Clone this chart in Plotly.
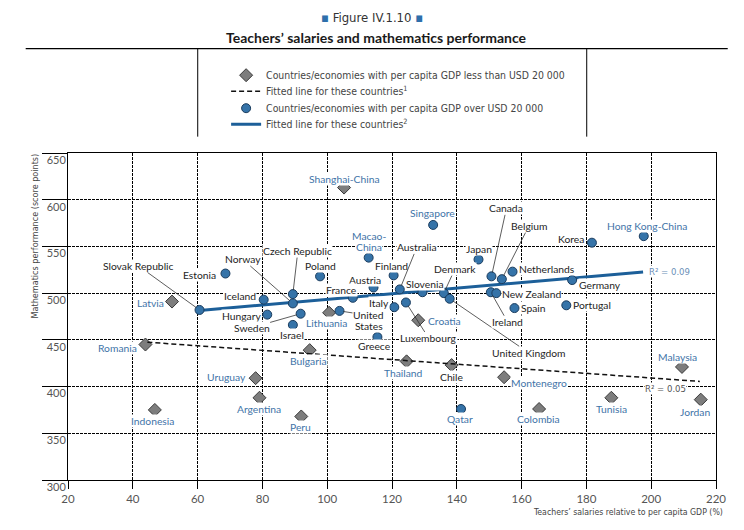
import plotly.graph_objects as go

# ---------------- data ----------------
high_names = ["Slovak Republic", "Estonia", "Norway", "Czech Republic", "Poland", "Iceland",
              "Hungary", "Sweden", "Israel", "Macao-China", "Singapore", "Finland", "Austria",
              "Australia", "France", "Slovenia", "United States", "Italy", "Luxembourg", "Greece",
              "Denmark", "United Kingdom", "Japan", "Canada", "Belgium", "Netherlands", "Ireland",
              "New Zealand", "Spain", "Germany", "Portugal", "Korea", "Hong Kong-China", "Qatar"]
high_x = [60.6, 68.6, 89.4, 89.4, 97.8, 80.4, 81.5, 91.8, 89.4, 112.8, 132.7, 120.5, 114.3,
          122.4, 107.9, 129.4, 103.8, 120.7, 124.3, 115.5, 136.0, 137.8, 146.7, 150.7, 153.9,
          157.2, 150.5, 152.2, 157.8, 175.6, 173.8, 181.7, 197.7, 141.3]
high_y = [482, 521, 489, 499, 518, 493, 477, 478, 466, 538, 573, 519, 506,
          504, 495, 501, 481, 485, 490, 453, 500, 494, 536, 518, 515,
          523, 501, 500, 484, 514, 487, 554, 561, 376]

low_names = ["Latvia", "Shanghai-China", "Lithuania", "Croatia", "Romania", "Indonesia",
             "Uruguay", "Argentina", "Peru", "Bulgaria", "Thailand", "Chile", "Montenegro",
             "Colombia", "Tunisia", "Malaysia", "Jordan"]
low_x = [52.1, 105.2, 100.6, 128.1, 43.9, 46.8, 77.9, 79.1, 92.0, 94.6, 124.5, 138.4, 154.6,
         165.4, 187.7, 209.5, 215.3]
low_y = [491, 613, 479, 471, 445, 375, 409, 388, 368, 439, 427, 423, 410, 376, 388, 421, 386]

fit_high_x = [60.6, 197.5]
fit_high_y = [481.5, 522.7]
fit_low_x = [44.5, 215.0]
fit_low_y = [447.5, 405.5]
r2_high = "R\u00b2 = 0.09"
r2_low = "R\u00b2 = 0.05"

x_ticks = [20, 40, 60, 80, 100, 120, 140, 160, 180, 200, 220]
y_ticks = [300, 350, 400, 450, 500, 550, 600, 650]

partners = {"Shanghai-China", "Singapore", "Macao-China", "Hong Kong-China", "Qatar", "Latvia",
            "Lithuania", "Croatia", "Romania", "Indonesia", "Uruguay", "Argentina", "Peru",
            "Bulgaria", "Thailand", "Montenegro", "Colombia", "Tunisia", "Malaysia", "Jordan"}

# ---------------- label placement (pixel offsets from the point) ----------------
label_pos = {
    "Slovak Republic": ("a", -61, -44), "Estonia": ("r", -8, 1), "Norway": ("a", -50, -44),
    "Czech Republic": ("a", 5, -43), "Poland": ("c", 0, -10), "Iceland": ("r", -7, -4),
    "Hungary": ("r", -5, 1), "Sweden": ("a", -49, 14), "Israel": ("c", -1, 10),
    "Singapore": ("c", -1, -12), "Finland": ("c", -2, -9), "Austria": ("c", -9, -8),
    "Australia": ("a", 17, -42), "France": ("c", -11, -8), "Slovenia": ("c", 3, -8.5),
    "Italy": ("r", -4, -4), "Luxembourg": ("a", 23, 36), "Greece": ("c", -3, 9),
    "Denmark": ("a", 11, -24), "United Kingdom": ("a", 79, 54), "Japan": ("c", 0, -10.5),
    "Canada": ("a", 15, -68), "Belgium": ("a", 27, -53), "Netherlands": ("l", 5, -3),
    "Ireland": ("a", 17, 30), "New Zealand": ("l", 5, 1), "Spain": ("l", 6, 0),
    "Germany": ("l", 6, 5), "Portugal": ("l", 6, 0), "Korea": ("r", -7, -4),
    "Hong Kong-China": ("c", 3, -10.5), "Qatar": ("c", -1, 10),
    "Latvia": ("r", -7, 1), "Shanghai-China": ("c", 0, -9), "Lithuania": ("c", -3, 10),
    "Croatia": ("l", 9, 1), "Romania": ("r", -7, 3.5), "Indonesia": ("c", -2, 11.5),
    "Uruguay": ("r", -9, -1), "Argentina": ("c", 0, 11), "Peru": ("c", -1, 10.5),
    "Bulgaria": ("c", -1, 11), "Thailand": ("c", -3, 11.5), "Chile": ("c", 0, 12),
    "Montenegro": ("l", 6, 6), "Colombia": ("c", -1, 10), "Tunisia": ("c", 0, 11),
    "Malaysia": ("c", -4, -10), "Jordan": ("c", -6, 12),
}
split_labels = {
    "Macao-China": [("Macao-", "c", 0, -22), ("China", "c", 0, -11)],
    "United States": [("United", "a", 29, 4.5), ("States", "c", 29, 15.5)],
}

BLUE_TXT = "#3f74a8"
DARK_TXT = "#1e1e1e"
LBL_FONT = "Lato"
NARROW = "DejaVu Sans Condensed, Liberation Sans, Arial, sans-serif"

fig = go.Figure()

fig.add_trace(go.Scatter(x=low_x, y=low_y, mode="markers", text=low_names,
                         marker=dict(symbol="diamond", size=10, color="#7d7d7d",
                                     line=dict(color="#3a3a3a", width=1)),
                         name="Countries/economies with per capita GDP less than USD 20 000",
                         legend="legend", hoverinfo="text"))
fig.add_trace(go.Scatter(x=fit_low_x, y=fit_low_y, mode="lines",
                         line=dict(color="#111111", width=1.5, dash="5px,3px"),
                         name="Fitted line for these countries<sup>1</sup>", legend="legend2",
                         hoverinfo="skip"))
fig.add_trace(go.Scatter(x=fit_high_x, y=fit_high_y, mode="lines",
                         line=dict(color="#1c5f99", width=3),
                         name="Fitted line for these countries<sup>2</sup>", legend="legend4",
                         hoverinfo="skip"))
fig.add_trace(go.Scatter(x=high_x, y=high_y, mode="markers", text=high_names,
                         marker=dict(symbol="circle", size=9, color="#3573a8",
                                     line=dict(color="#1a3c5e", width=1)),
                         name="Countries/economies with per capita GDP over USD 20 000",
                         legend="legend3", hoverinfo="text"))

annotations = []


def add_label(name, text, mode, dx, dy, x, y):
    color = BLUE_TXT if name in partners else DARK_TXT
    font = dict(family=LBL_FONT, size=10.3, color=color)
    if mode == "a":
        annotations.append(dict(x=x, y=y, xref="x", yref="y", text=text, showarrow=True,
                                ax=dx, ay=dy, axref="pixel", ayref="pixel", arrowhead=0,
                                arrowwidth=0.8, arrowcolor="#333333", standoff=4,
                                font=font, bgcolor="white", borderpad=0))
    else:
        anchor = {"c": "center", "l": "left", "r": "right"}[mode]
        annotations.append(dict(x=x, y=y, xref="x", yref="y", text=text, showarrow=False,
                                xanchor=anchor, yanchor="middle", xshift=dx, yshift=-dy,
                                font=font, bgcolor="white", borderpad=0))


for names, xs, ys in ((high_names, high_x, high_y), (low_names, low_x, low_y)):
    for n, xv, yv in zip(names, xs, ys):
        if n in split_labels:
            for t, m, dx, dy in split_labels[n]:
                add_label(n, t, m, dx, dy, xv, yv)
        else:
            m, dx, dy = label_pos[n]
            add_label(n, n, m, dx, dy, xv, yv)

annotations.append(dict(x=fit_high_x[1], y=fit_high_y[1], xref="x", yref="y", text=r2_high,
                        showarrow=False, xanchor="left", yanchor="middle", xshift=5,
                        font=dict(family=NARROW, size=9.5, color="#6b8fb8"),
                        bgcolor="white", borderpad=0))
annotations.append(dict(x=fit_low_x[1], y=fit_low_y[1], xref="x", yref="y", text=r2_low,
                        showarrow=False, xanchor="center", yanchor="middle", xshift=-34,
                        yshift=-7, font=dict(family=NARROW, size=9.5, color="#555555"),
                        bgcolor="white", borderpad=0))

sq = '<span style="color:#2e6fab">\u25aa</span>'
annotations.append(dict(x=0.4687, y=1.4138, xref="paper", yref="paper",
                        text=sq + " Figure IV.1.10 " + sq, showarrow=False,
                        xanchor="center", yanchor="middle",
                        font=dict(family=NARROW, size=13, color="#333333")))
annotations.append(dict(x=0.4764, y=1.3526, xref="paper", yref="paper",
                        text="<b>Teachers\u2019 salaries and mathematics performance</b>",
                        showarrow=False, xanchor="center", yanchor="middle",
                        font=dict(family=LBL_FONT, size=14, color="#1a1a1a")))
annotations.append(dict(x=-0.0514, y=0.747, xref="paper", yref="paper",
                        text="Mathematics performance (score points)", textangle=-90,
                        showarrow=False, xanchor="center", yanchor="middle",
                        font=dict(family=NARROW, size=9, color="#444444")))
annotations.append(dict(x=1.0134, y=-0.097, xref="paper", yref="paper",
                        text="Teachers\u2019 salaries relative to per capita GDP (%)",
                        showarrow=False, xanchor="right", yanchor="middle",
                        font=dict(family=NARROW, size=8.7, color="#444444")))

shapes = [
    dict(type="line", xref="paper", yref="paper", x0=-0.0653, x1=1.0181, y0=1.319, y1=1.319,
         line=dict(color="black", width=1.2)),
    dict(type="line", xref="paper", yref="paper", x0=0.2002, x1=0.2002, y0=1.319, y1=1.05,
         line=dict(color="black", width=1)),
    dict(type="line", xref="paper", yref="paper", x0=0.8005, x1=0.8005, y0=1.319, y1=1.05,
         line=dict(color="black", width=1)),
]


def leg(ypos):
    return dict(x=0.244, xanchor="left", y=ypos, yanchor="top",
                font=dict(family=NARROW, size=10.4, color="#444444"),
                bgcolor="rgba(0,0,0,0)", itemwidth=30)


fig.update_layout(
    width=744, height=530,
    margin=dict(l=60, r=36, t=145, b=58, autoexpand=False),
    paper_bgcolor="white", plot_bgcolor="white",
    annotations=annotations, shapes=shapes,
    showlegend=True,
    legend=leg(1.2823), legend2=leg(1.2333), legend3=leg(1.1814), legend4=leg(1.1324),
    xaxis=dict(range=[20, 220], tickvals=x_ticks, ticks="outside", ticklen=8,
               tickcolor="black", showgrid=True, gridcolor="black", griddash="3px,1px",
               gridwidth=1, showline=True, linecolor="black", linewidth=1, mirror=True,
               zeroline=False, automargin=False,
               tickfont=dict(family=LBL_FONT, size=11.5, color="#555555")),
    yaxis=dict(range=[300, 650], tickvals=y_ticks, ticks="outside", ticklen=25,
               tickcolor="black", showgrid=True, gridcolor="black", griddash="3px,1px",
               gridwidth=1, showline=True, linecolor="black", linewidth=1, mirror=True,
               zeroline=False, automargin=False, ticklabelstandoff=-26, ticklabelshift=7,
               tickfont=dict(family=LBL_FONT, size=11, color="#555555")),
)

fig.write_html("out.html")
